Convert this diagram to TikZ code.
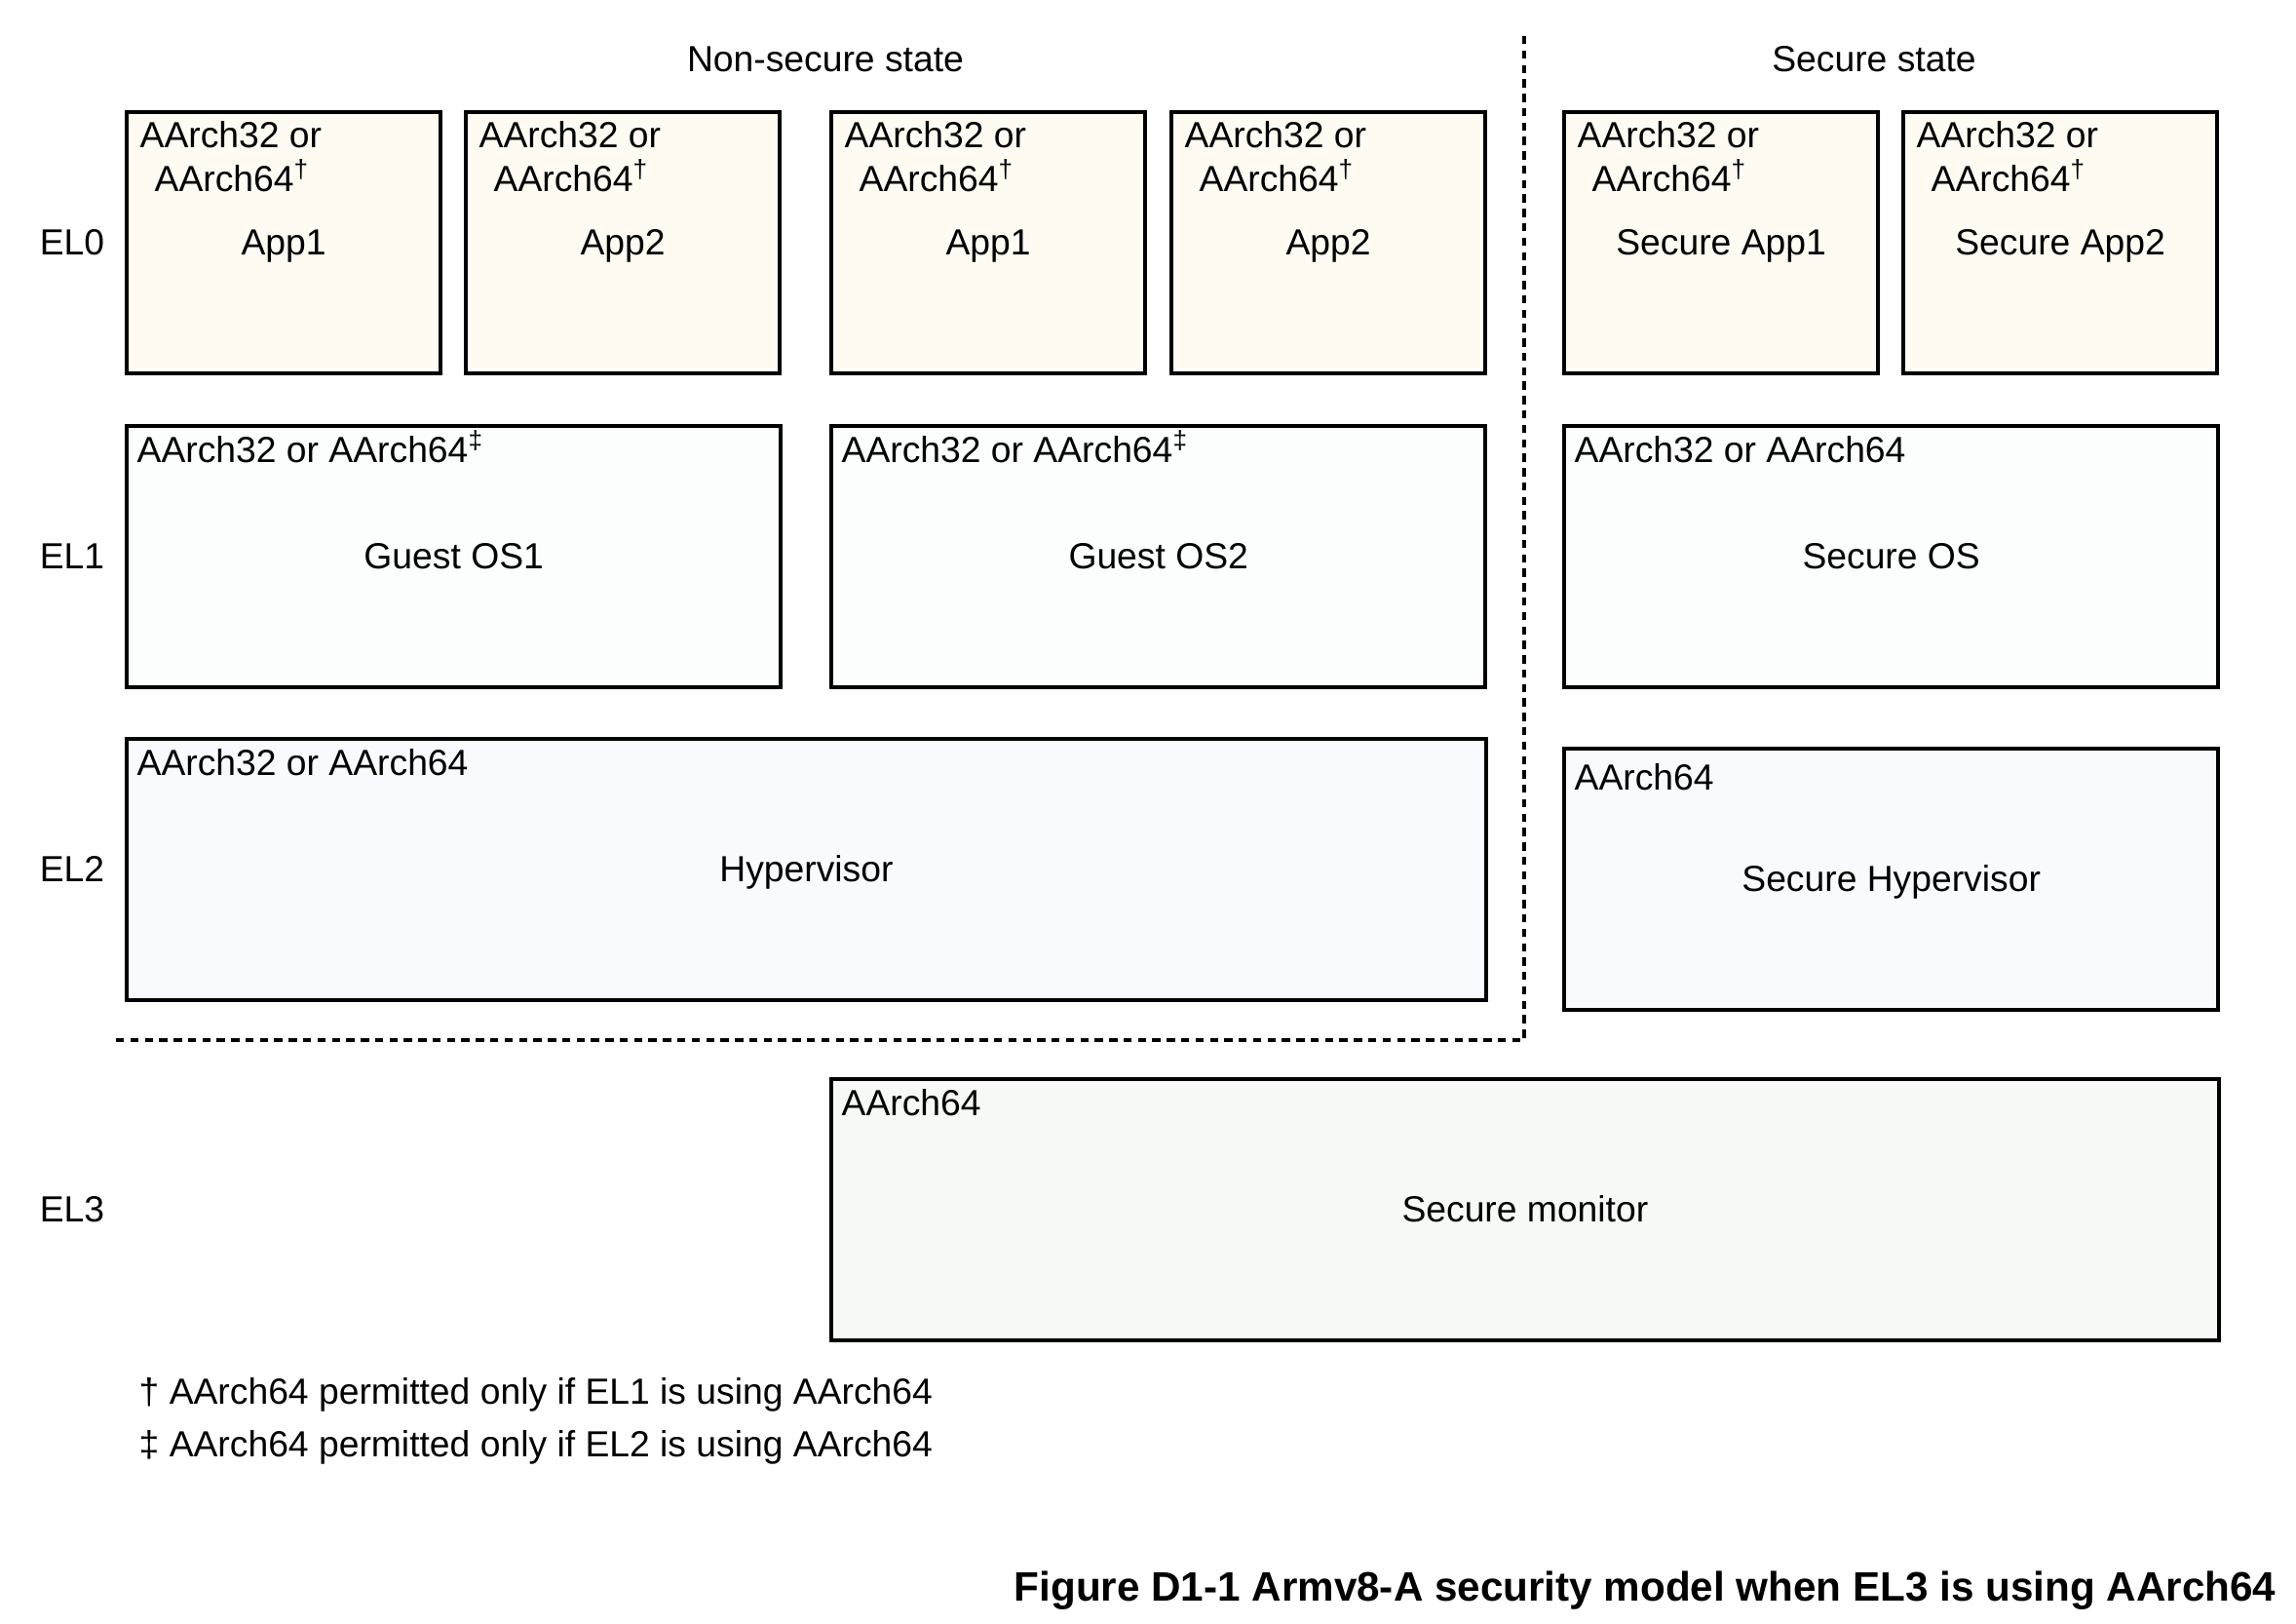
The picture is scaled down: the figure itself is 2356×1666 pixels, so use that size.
\documentclass[tikz,border=0pt]{standalone}
\usepackage{fontspec}
\setmainfont{Liberation Sans}

\definecolor{elzero}{RGB}{255,251,243}
\definecolor{elone}{RGB}{252,254,254}
\definecolor{eltwo}{RGB}{248,250,254}
\definecolor{elthree}{RGB}{247,249,246}

\tikzset{
  lvbox/.style={draw, line width=1.1pt, anchor=north west, inner sep=0pt, outer sep=0pt,
                minimum height=2.68cm, text height=0.72em, text depth=0pt},
  archtext/.style={anchor=base west, inner sep=0pt},
  lvlabel/.style={inner sep=0pt, text height=0.72em, text depth=0pt},
  sepline/.style={line width=1pt, dash pattern=on 2.4pt off 1.8pt},
}

\begin{document}
\begin{tikzpicture}[x=0.01cm, y=-0.01cm, font=\fontsize{10.6}{12.8}\selectfont]

\useasboundingbox (0,0) rectangle (2356,1666);

% states
\node [anchor=base] (nstitle) at (847,73) {Non-secure state};
\node [anchor=base] (stitle) at (1923,73) {Secure state};

% border between the states
\coordinate (septop) at (1564,37);
\coordinate (sepcorner) at (1564,1067);
\coordinate (sepleft) at (117,1067);
\draw [sepline] (septop) -- (sepcorner) -- (sepleft);

% EL0
\node [lvbox, fill=elzero, minimum width=3.22cm] (nsappa) at (130,115) {App1};
\node [archtext] at ([shift={(13,36)}]nsappa.north west) {AArch32 or};
\node [archtext] at ([shift={(28,81)}]nsappa.north west) {AArch64\textsuperscript{†}};

\node [lvbox, fill=elzero, minimum width=3.22cm] (nsappb) at (478,115) {App2};
\node [archtext] at ([shift={(13,36)}]nsappb.north west) {AArch32 or};
\node [archtext] at ([shift={(28,81)}]nsappb.north west) {AArch64\textsuperscript{†}};

\node [lvbox, fill=elzero, minimum width=3.22cm] (nsappc) at (853,115) {App1};
\node [archtext] at ([shift={(13,36)}]nsappc.north west) {AArch32 or};
\node [archtext] at ([shift={(28,81)}]nsappc.north west) {AArch64\textsuperscript{†}};

\node [lvbox, fill=elzero, minimum width=3.22cm] (nsappd) at (1202,115) {App2};
\node [archtext] at ([shift={(13,36)}]nsappd.north west) {AArch32 or};
\node [archtext] at ([shift={(28,81)}]nsappd.north west) {AArch64\textsuperscript{†}};

\node [lvbox, fill=elzero, minimum width=3.22cm] (sappa) at (1605,115) {Secure App1};
\node [archtext] at ([shift={(13,36)}]sappa.north west) {AArch32 or};
\node [archtext] at ([shift={(28,81)}]sappa.north west) {AArch64\textsuperscript{†}};

\node [lvbox, fill=elzero, minimum width=3.22cm] (sappb) at (1953,115) {Secure App2};
\node [archtext] at ([shift={(13,36)}]sappb.north west) {AArch32 or};
\node [archtext] at ([shift={(28,81)}]sappb.north west) {AArch64\textsuperscript{†}};

% EL1
\node [lvbox, fill=elone, minimum width=6.71cm] (guestosa) at (130,437) {Guest OS1};
\node [archtext] at ([shift={(10,37)}]guestosa.north west) {AArch32 or AArch64\textsuperscript{‡}};

\node [lvbox, fill=elone, minimum width=6.71cm] (guestosb) at (853,437) {Guest OS2};
\node [archtext] at ([shift={(10,37)}]guestosb.north west) {AArch32 or AArch64\textsuperscript{‡}};

\node [lvbox, fill=elone, minimum width=6.71cm] (secos) at (1605,437) {Secure OS};
\node [archtext] at ([shift={(10,37)}]secos.north west) {AArch32 or AArch64};

% EL2
\node [lvbox, fill=eltwo, minimum width=13.94cm] (hyp) at (130,758) {Hypervisor};
\node [archtext] at ([shift={(10,37)}]hyp.north west) {AArch32 or AArch64};

\node [lvbox, fill=eltwo, minimum width=6.71cm] (sechyp) at (1605,768) {Secure Hypervisor};
\node [archtext] at ([shift={(10,42)}]sechyp.north west) {AArch64};

% EL3
\node [lvbox, fill=elthree, minimum width=14.23cm] (secmon) at (853,1107) {Secure monitor};
\node [archtext] at ([shift={(10,37)}]secmon.north west) {AArch64};

% exception levels
\node [lvlabel] (elzero) at (74,0 |- nsappa) {EL0};
\node [lvlabel] (elone) at (74,0 |- guestosa) {EL1};
\node [lvlabel] (eltwo) at (74,0 |- hyp) {EL2};
\node [lvlabel] (elthree) at (74,0 |- secmon) {EL3};

% footnotes
\node [archtext] (notea) at (142,1440) {† AArch64 permitted only if EL1 is using AArch64};
\node [archtext] (noteb) at (142,1494) {‡ AArch64 permitted only if EL2 is using AArch64};

\node [anchor=base east, inner sep=0pt, font=\fontsize{12}{14}\selectfont\bfseries]
  (caption) at (2336,1642) {Figure D1-1 Armv8-A security model when EL3 is using AArch64};

\end{tikzpicture}
\end{document}
